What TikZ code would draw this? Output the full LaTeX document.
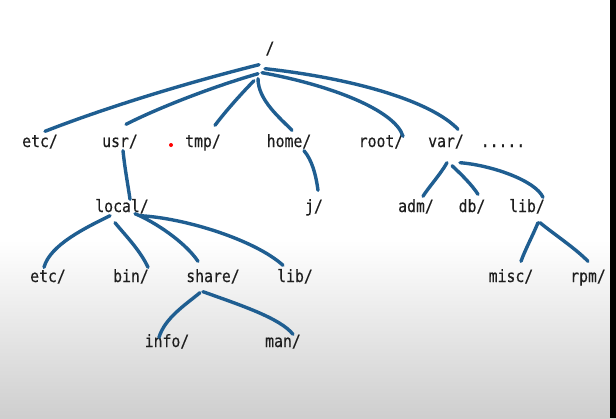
\documentclass[tikz,border=0pt]{standalone}
\usepackage{fontspec}
\newfontfamily\dirfont{DejaVu Sans Mono}[FakeStretch=0.87,FakeBold=0.4]
\usepackage{tikz}
\usetikzlibrary{arrows}
\definecolor{pen}{RGB}{31,94,145}
\definecolor{ink}{RGB}{30,30,30}

\begin{document}
\begin{tikzpicture}[x=1pt,y=-1pt,
    dirname/.style={text=ink,font=\dirfont\fontsize{17}{20}\selectfont,
      inner sep=1pt,text height=11pt,text depth=3pt},
    branch/.style={draw=pen,line width=3.4pt,line cap=round,line join=round}]
    % screen background
    \useasboundingbox (0,0) rectangle (616,418);
    \fill[white] (0,0) rectangle (616,242);
    \shade[top color=white,bottom color=black!19] (0,240) rectangle (616,418);
    \fill[black] (610,0) rectangle (616,418);
    \fill[red] (171,145) circle (2);

    % the tree
    \node[dirname] (rt) at (270,50) {/};
    \node[dirname] (etc) at (40,143) {etc/};
    \node[dirname] (usr) at (120,143) {usr/};
    \node[dirname] (tmp) at (203,143) {tmp/};
    \node[dirname] (home) at (289,143) {home/};
    \node[dirname] (rootd) at (381,143) {root/};
    \node[dirname] (var) at (446,143) {var/};
    \node[dirname] (dots) at (503,143) {.....};
    \node[dirname] (local) at (122,208) {local/};
    \node[dirname] (j) at (314,208) {j/};
    \node[dirname] (adm) at (416,208) {adm/};
    \node[dirname] (db) at (472,208) {db/};
    \node[dirname] (lib) at (527,208) {lib/};
    \node[dirname] (etcl) at (48,278) {etc/};
    \node[dirname] (bin) at (131,278) {bin/};
    \node[dirname] (share) at (213,278) {share/};
    \node[dirname] (libl) at (295,278) {lib/};
    \node[dirname] (misc) at (511,278) {misc/};
    \node[dirname] (rpm) at (588,278) {rpm/};
    \node[dirname] (info) at (167,343) {info/};
    \node[dirname] (man) at (283,343) {man/};

    \draw[branch] ([shift={(-11,6.5)}]rt.south) .. controls (190,82) and (110,106) .. ([shift={(5,-3.5)}]etc.north);
    \draw[branch] ([shift={(-12,15.5)}]rt.south) .. controls (215,86) and (160,107) .. ([shift={(6,-10.5)}]usr.north);
    \draw[branch] ([shift={(-16,22.5)}]rt.south) .. controls (240,95) and (225,112) .. ([shift={(12,-9.5)}]tmp.north);
    \draw[branch] ([shift={(-12,20.5)}]rt.south) .. controls (258,100) and (280,118) .. ([shift={(3,-4.5)}]home.north);
    \draw[branch] ([shift={(-8,14.5)}]rt.south) .. controls (330,85) and (395,110) .. ([shift={(22,1.5)}]rootd.north);
    \draw[branch] ([shift={(-5,10.5)}]rt.south) .. controls (350,78) and (430,100) .. ([shift={(12,-5.5)}]var.north);

    \draw[branch] ([shift={(3,-0.5)}]usr.south) .. controls (125,170) and (128,185) .. ([shift={(8,-0.5)}]local.north);
    \draw[branch] ([shift={(15,-0.5)}]home.south) .. controls (312,160) and (316,175) .. ([shift={(4,-9.5)}]j.north);
    \draw[branch] ([shift={(1,11.5)}]var.south) .. controls (440,175) and (428,188) .. ([shift={(7,-3.5)}]adm.north);
    \draw[branch] ([shift={(6,14.5)}]var.south) .. controls (462,175) and (472,185) .. ([shift={(6,-5.5)}]db.north);
    \draw[branch] ([shift={(14,11.5)}]var.south) .. controls (490,165) and (535,180) .. ([shift={(16,-2.5)}]lib.north);

    \draw[branch] ([shift={(-12,-0.5)}]local.south) .. controls (85,228) and (50,245) .. ([shift={(-4,-2.5)}]etcl.north);
    \draw[branch] ([shift={(-7,6.5)}]local.south) .. controls (125,235) and (140,250) .. ([shift={(17,-2.5)}]bin.north);
    \draw[branch] ([shift={(13,-2.5)}]local.south) .. controls (155,222) and (185,242) .. ([shift={(-15,-8.5)}]share.north);
    \draw[branch] ([shift={(18,-0.5)}]local.south) .. controls (185,218) and (255,240) .. ([shift={(-12,-4.5)}]libl.north);

    \draw[branch] ([shift={(-13,6.5)}]share.south) .. controls (185,305) and (165,318) .. ([shift={(-8,2.5)}]info.north);
    \draw[branch] ([shift={(-10,5.5)}]share.south) .. controls (240,305) and (280,318) .. ([shift={(10,-0.5)}]man.north);
    \draw[branch] ([shift={(11,6.5)}]lib.south) .. controls (533,235) and (525,250) .. ([shift={(10,-8.5)}]misc.north);
    \draw[branch] ([shift={(13,6.5)}]lib.south) .. controls (555,235) and (575,248) .. ([shift={(0,-8.5)}]rpm.north);
\end{tikzpicture}
\end{document}
